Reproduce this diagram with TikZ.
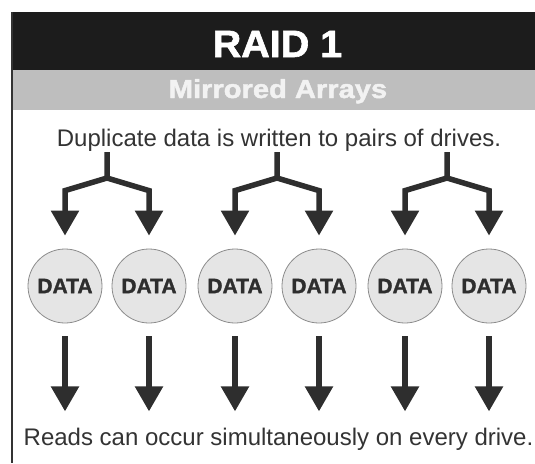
\documentclass[tikz,border=0pt]{standalone}
\usepackage{fontspec}
\setmainfont{Liberation Sans}
\newfontfamily\heavyfont[BoldFeatures={FakeBold=1.6}]{Liberation Sans}
\usetikzlibrary{arrows.meta}
\definecolor{hdrblack}{HTML}{1C1C1C}
\definecolor{hdrgray}{HTML}{BEBEBE}
\definecolor{ink}{HTML}{2E2E2E}
\definecolor{txt}{HTML}{333333}
\definecolor{diskfill}{HTML}{E5E5E5}
\definecolor{diskline}{HTML}{8C8C8C}
\begin{document}
\begin{tikzpicture}[x=1pt,y=-1pt,
  disk/.style={circle,fill=diskfill,draw=diskline,line width=0.8pt,minimum size=74pt,inner sep=0pt,
    text=ink,font=\heavyfont\bfseries\fontsize{21}{24}\selectfont},
  arr/.style={draw=ink,line width=5.5pt,line join=miter,
    -{Triangle[width=27pt,length=25pt]}},
  caption/.style={text=txt,font=\fontsize{24}{28}\selectfont,anchor=base,inner sep=0pt}]
\useasboundingbox (0,0) rectangle (535,463);
% header
\fill[hdrblack] (12,12) rectangle (535,70);
\fill[hdrgray] (12,70) rectangle (535,110);
\draw[txt,line width=2pt] (12,12) -- (12,463);
\node[anchor=base,inner sep=0pt,text=white,font=\heavyfont\bfseries\fontsize{38}{44}\selectfont,xscale=1.04] (title) at (277.5,57) {RAID 1};
\node[anchor=base,inner sep=0pt,text=white!95!black,font=\heavyfont\bfseries\fontsize{26}{30}\selectfont,xscale=1.12] (subtitle) at (278,98) {Mirrored Arrays};
% captions
\node[caption] (top) at (279,146) {Duplicate data is written to pairs of drives.};
\node[caption] (bottom) at (278.5,445) {Reads can occur simultaneously on every drive.};
% disks
\foreach \i/\x in {1/65,2/149,3/235,4/319,5/405,6/489}{
  \node[disk] (d\i) at (\x,286) {DATA};
}
% write arrows
\foreach \p/\a/\b/\x in {1/1/2/107,2/3/4/277,3/5/6/447}{
  \coordinate (t\p) at (\x,152);
  \coordinate (j\p) at (\x,178);
  \draw[arr] (t\p) -- (j\p) -- ([yshift=58pt]d\a.north) -- ([yshift=13pt]d\a.north);
  \draw[arr] (j\p) -- ([yshift=58pt]d\b.north) -- ([yshift=13pt]d\b.north);
}
% read arrows
\foreach \i in {1,...,6}{
  \draw[arr] ([yshift=-13pt]d\i.south) -- ([yshift=-88pt]d\i.south);
}
\end{tikzpicture}
\end{document}
